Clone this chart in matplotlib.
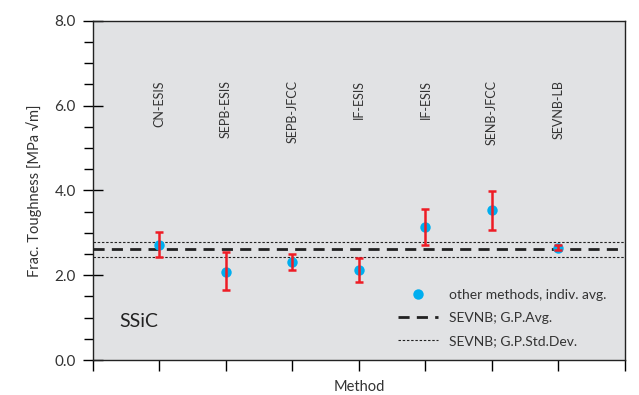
import numpy as np
import matplotlib.pyplot as plt

# data
methods = ['CN-ESIS', 'SEPB-ESIS', 'SEPB-JFCC', 'IF-ESIS', 'IF-ESIS', 'SENB-JFCC', 'SEVNB-LB']
avg = [2.71, 2.08, 2.31, 2.13, 3.13, 3.53, 2.65]
err_lo = [2.42, 1.64, 2.13, 1.83, 2.70, 3.07, 2.60]
err_hi = [3.02, 2.54, 2.49, 2.41, 3.55, 3.98, 2.71]
gp_avg = 2.61
gp_std_lo = 2.44
gp_std_hi = 2.79

plt.rcParams['font.family'] = ['Lato', 'DejaVu Sans']
txt = '#333333'

x = np.arange(1, len(methods) + 1)
avg = np.array(avg)
yerr = np.array([avg - np.array(err_lo), np.array(err_hi) - avg])

fig = plt.figure(figsize=(6.39, 3.95), dpi=100)
ax = fig.add_axes([0.1455, 0.0886, 0.8325, 0.859])
ax.set_facecolor('#e1e2e4')

ax.axhline(gp_avg, color='#222222', lw=2, dashes=(4, 2.6), label='SEVNB; G.P.Avg.', zorder=2)
ax.axhline(gp_std_hi, color='#222222', lw=0.8, dashes=(2.2, 1.6), zorder=2)
ax.axhline(gp_std_lo, color='#222222', lw=0.8, dashes=(2.2, 1.6), label='SEVNB; G.P.Std.Dev.', zorder=2)

ax.plot(x, avg, 'o', color='#00aeef', ms=7.5, mec='none', label='other methods, indiv. avg.', zorder=3)
ax.errorbar(x, avg, yerr=yerr, fmt='none', ecolor='#ee1c25', elinewidth=1.8, capsize=2.8, capthick=1.8, zorder=4)

for xi, m in zip(x, methods):
    ax.text(xi, 6.6, m, rotation=90, ha='center', va='top', fontsize=9, color=txt)

ax.text(0.4, 0.9, 'SSiC', fontsize=14, color='#222222', ha='left', va='center')

ax.set_xlim(0, 8)
ax.set_ylim(0, 8)
ax.set_xticks(range(0, 9))
ax.set_xticklabels([])
ax.set_yticks([0, 2, 4, 6, 8])
ax.set_yticklabels(['0.0', '2.0', '4.0', '6.0', '8.0'])
ax.set_yticks(np.arange(0, 8.1, 0.5), minor=True)
ax.tick_params(axis='y', which='major', direction='inout', length=14.5, width=1, pad=5, labelsize=11, labelcolor=txt)
ax.tick_params(axis='y', which='minor', direction='out', length=6.5, width=1)
ax.tick_params(axis='x', which='major', direction='out', length=8, width=1)
for s in ax.spines.values():
    s.set_linewidth(1)
    s.set_color('#222222')

ax.set_ylabel('Frac. Toughness [MPa \u221am]', fontsize=10.5, color=txt, labelpad=9)
ax.set_xlabel('Method', fontsize=10.5, color=txt, labelpad=3)

h, l = ax.get_legend_handles_labels()
order = [2, 0, 1]
ax.legend([h[i] for i in order], [l[i] for i in order], loc='upper left', bbox_to_anchor=(0.56, 0.23),
          frameon=False, fontsize=10, handlelength=2.9, handletextpad=0.8, labelspacing=0.8,
          borderpad=0, labelcolor=txt)

fig.savefig('out.png', dpi=100)
